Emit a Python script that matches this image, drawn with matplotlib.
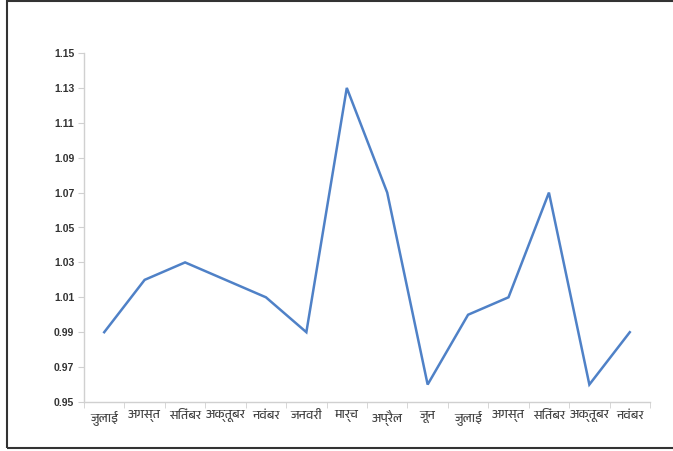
import matplotlib
matplotlib.use("Agg")
import matplotlib.pyplot as plt
from matplotlib import font_manager
from matplotlib.patches import Rectangle

months = ["जुलाई", "अगस्त", "सितंबर", "अक्तूबर", "नवंबर", "जनवरी", "मार्च",
          "अप्रैल", "जून", "जुलाई", "अगस्त", "सितंबर", "अक्तूबर", "नवंबर"]
values = [0.99, 1.02, 1.03, 1.02, 1.01, 0.99, 1.13,
          1.07, 0.96, 1.00, 1.01, 1.07, 0.96, 0.99]
yticks = [0.95, 0.97, 0.99, 1.01, 1.03, 1.05, 1.07, 1.09, 1.11, 1.13, 1.15]

# pick any installed Devanagari-capable family for the month labels
names = sorted({f.name for f in font_manager.fontManager.ttflist})
deva = [n for n in names if "Devanagari" in n or "Lohit" in n or "Mangal" in n]
label_family = deva + ["DejaVu Sans"]

fig = plt.figure(figsize=(6.73, 4.51), dpi=100)
ax = fig.add_axes([84 / 673, 1 - 402 / 451, 566 / 673, 349 / 451])

x = list(range(len(values)))
ax.plot(x, values, color="#4f81c7", linewidth=1.8, solid_joinstyle="miter")

ax.set_xlim(-0.5, len(values) - 0.5)
ax.set_ylim(0.95, 1.15)
ax.set_yticks(yticks)
ax.set_yticklabels([f"{v:.2f}" for v in yticks], fontsize=7.5,
                   fontweight="bold", color="#333333", family="Liberation Sans")

# category labels centred, tick marks between categories
ax.set_xticks(x)
ax.set_xticklabels(months, fontsize=9, color="#444444", family=label_family)
ax.tick_params(axis="x", length=0, pad=6)
ax.set_xticks([i - 0.5 for i in range(len(values) + 1)], minor=True)
ax.tick_params(axis="x", which="minor", length=4, color="#d0d0d0")
ax.tick_params(axis="y", length=4, color="#d0d0d0", pad=3)

for side in ("top", "right"):
    ax.spines[side].set_visible(False)
for side in ("left", "bottom"):
    ax.spines[side].set_color("#d0d0d0")
    ax.spines[side].set_linewidth(1.0)

# outer frame
fig.patches.append(Rectangle((7 / 673, 1 - 448 / 451), 700 / 673, 447 / 451,
                             transform=fig.transFigure, fill=False,
                             edgecolor="#333333", linewidth=1.5))

if not deva:
    fig.text(0.5, 0.97, ", ".join(names[:40]), fontsize=5, ha="center")

fig.savefig("out.png", dpi=100, facecolor="white")
